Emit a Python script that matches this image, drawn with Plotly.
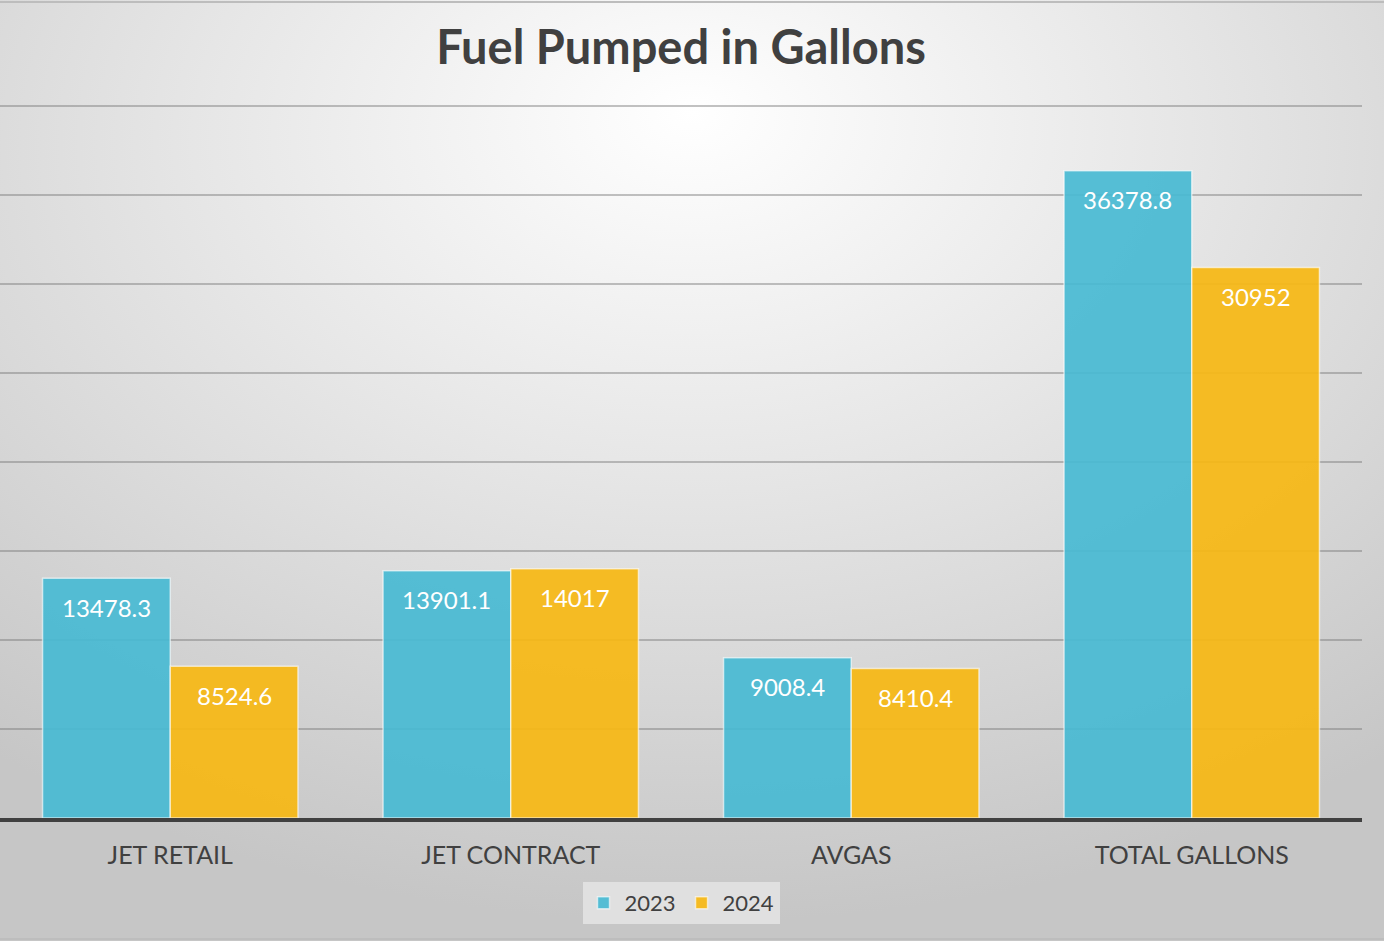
import plotly.graph_objects as go
import base64

categories = ["JET RETAIL", "JET CONTRACT", "AVGAS", "TOTAL GALLONS"]
series_names = ["2023", "2024"]
values_2023 = [13478.3, 13901.1, 9008.4, 36378.8]
values_2024 = [8524.6, 14017, 8410.4, 30952]
labels_2023 = ["13478.3", "13901.1", "9008.4", "36378.8"]
labels_2024 = ["8524.6", "14017", "8410.4", "30952"]

W, H = 1384, 941
ml, mr, mt, mb = 0, 22, 105, 123
pw, ph = W - ml - mr, H - mt - mb
BARGAP = 0.25

svg = f'''<svg xmlns="http://www.w3.org/2000/svg" width="{W}" height="{H}" viewBox="0 0 {W} {H}">
<defs><radialGradient id="g" cx="50%" cy="18%" r="80%" fx="50%" fy="12%">
<stop offset="0%" stop-color="#ffffff"/><stop offset="45%" stop-color="#e6e6e6"/><stop offset="100%" stop-color="#c6c6c6"/>
</radialGradient></defs>
<rect x="0" y="0" width="{W}" height="{H}" fill="url(#g)"/>
<line x1="0" y1="2" x2="{W}" y2="2" stroke="#bdbdbd" stroke-width="2"/>
<line x1="0" y1="{H-2}" x2="{W}" y2="{H-2}" stroke="#bdbdbd" stroke-width="2"/>
</svg>'''
bg_uri = "data:image/svg+xml;base64," + base64.b64encode(svg.encode()).decode()

fig = go.Figure()
fig.add_trace(go.Bar(
    name=series_names[0], x=categories, y=values_2023,
    marker=dict(color="rgba(72,186,211,0.92)", line=dict(color="rgba(255,255,255,0.6)", width=1.5)),
    hoverinfo="x+y",
))
fig.add_trace(go.Bar(
    name=series_names[1], x=categories, y=values_2024,
    marker=dict(color="rgba(246,184,20,0.93)", line=dict(color="rgba(255,255,255,0.6)", width=1.5)),
    hoverinfo="x+y",
))

# data labels inside the bar tops
cat_px = pw / len(categories)
bar_px = cat_px * (1 - BARGAP) / 2
annotations = []
for vals, labs, sgn in ((values_2023, labels_2023, -1), (values_2024, labels_2024, 1)):
    for c, v, t in zip(categories, vals, labs):
        annotations.append(dict(
            x=c, y=v, xref="x", yref="y", text=t, showarrow=False,
            xshift=sgn * bar_px / 2, yshift=-29, yanchor="middle", xanchor="center",
            font=dict(color="white", size=24, family="Lato"),
        ))

fig.update_layout(
    width=W, height=H,
    margin=dict(l=ml, r=mr, t=mt, b=mb),
    paper_bgcolor="#d4d4d4",
    plot_bgcolor="rgba(0,0,0,0)",
    barmode="group", bargap=BARGAP, bargroupgap=0,
    title=dict(text="<b>Fuel Pumped in Gallons</b>", x=681 / pw, xanchor="center",
               y=1 - 48 / H, yanchor="middle", xref="paper",
               font=dict(size=47, color="#404040", family="Lato")),
    font=dict(family="Lato", color="#404040"),
    showlegend=True,
    legend=dict(orientation="h", x=681 / pw, xanchor="center", y=-(882 - 818) / ph, yanchor="top",
                bgcolor="#e0e0e0", font=dict(size=22, color="#404040"),
                itemwidth=32, borderwidth=0),
    images=[dict(source=bg_uri, xref="paper", yref="paper", x=-ml / pw, y=1 + mt / ph,
                 sizex=W / pw, sizey=H / ph, sizing="stretch", layer="below",
                 xanchor="left", yanchor="top")],
    annotations=annotations,
)
fig.update_xaxes(
    showline=True, linecolor="#404040", linewidth=4,
    ticks="outside", ticklen=12, tickcolor="rgba(0,0,0,0)",
    tickfont=dict(size=25, color="#404040", family="Lato"),
    showgrid=False,
)
fig.update_yaxes(
    range=[0, 40080], tickvals=[5000, 10000, 15000, 20000, 25000, 30000, 35000, 40000],
    showticklabels=False,
    showgrid=True, gridcolor="rgba(120,120,120,0.45)", gridwidth=1.5,
    zeroline=False, ticks="",
)

fig.write_html("out.html", config={"displayModeBar": False},
               post_script="document.body.style.margin='0';document.body.style.overflow='hidden';")
